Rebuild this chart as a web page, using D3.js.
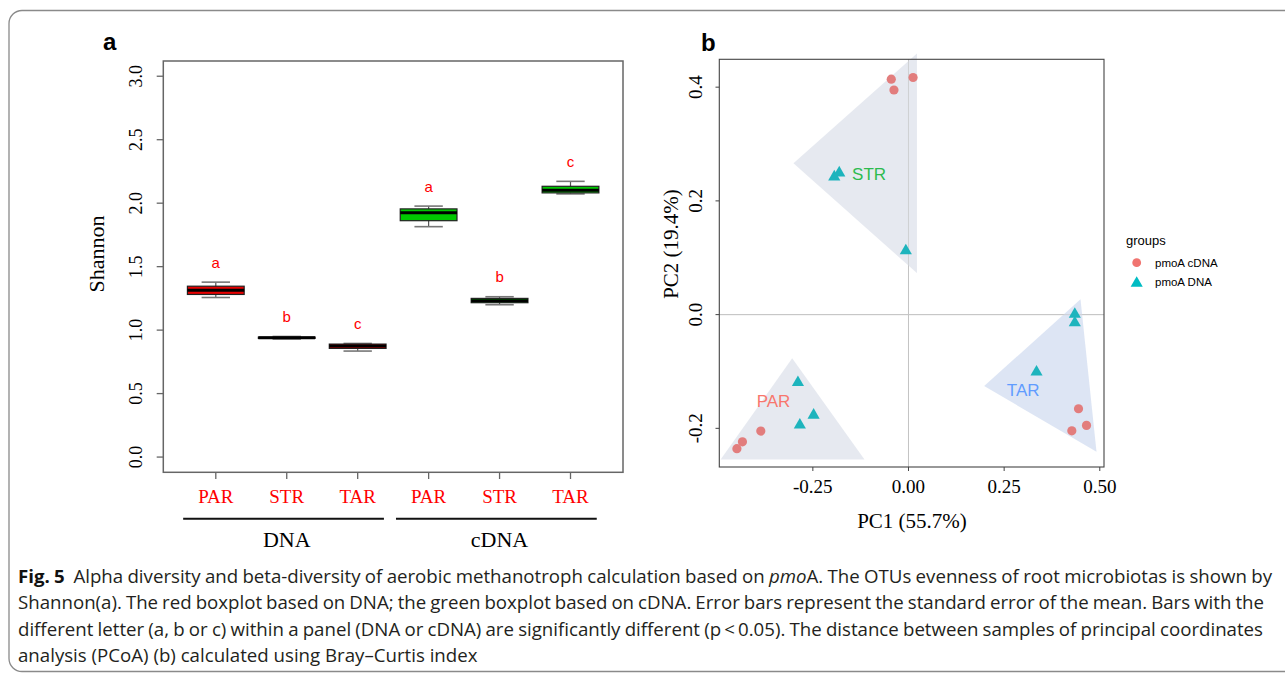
<!DOCTYPE html>
<html><head><meta charset="utf-8">
<script src="https://cdn.jsdelivr.net/npm/d3@7"></script>
<style>body{margin:0;background:#fff}svg{display:block}</style>
</head><body>
<svg id="chart" width="1285" height="674"></svg>
<script>
// ---------- Panel a data (Shannon boxplots) ----------
const boxCategories = ["PAR","STR","TAR","PAR","STR","TAR"];
const boxGroups = ["DNA","DNA","DNA","cDNA","cDNA","cDNA"];
const groupNames = ["DNA","cDNA"];
const boxWhiskerLow  = [1.257, 0.930, 0.835, 1.815, 1.200, 2.073];
const boxQ1          = [1.281, 0.935, 0.856, 1.862, 1.216, 2.081];
const boxMedian      = [1.315, 0.940, 0.874, 1.924, 1.232, 2.101];
const boxQ3          = [1.346, 0.945, 0.890, 1.955, 1.250, 2.133];
const boxWhiskerHigh = [1.378, 0.950, 0.895, 1.977, 1.263, 2.172];
const boxLetters = ["a","b","c","a","b","c"];
const shannonTicks = [0, 0.5, 1, 1.5, 2, 2.5, 3];
const shannonTickLabels = ["0.0","0.5","1.0","1.5","2.0","2.5","3.0"];

// ---------- Panel b data (PCoA) ----------
const cdnaPC1 = [-0.045, 0.012, -0.038, -0.4485, -0.434, -0.386, 0.4444, 0.4653, 0.4269];
const cdnaPC2 = [0.414, 0.417, 0.395, -0.2358, -0.2238, -0.2048, -0.1656, -0.1948, -0.2043];
const dnaPC1 = [-0.194, -0.181, -0.007, -0.289, -0.248, -0.284, 0.4347, 0.4347, 0.3346];
const dnaPC2 = [0.244, 0.251, 0.114, -0.1175, -0.175, -0.1925, 0.0023, -0.0125, -0.0992];
const hullNames = ["STR","PAR","TAR"];
const hullSTR = [[-0.3007, 0.266], [0.022, 0.459], [0.022, 0.073]];
const hullPAR = [[-0.491, -0.255], [-0.304, -0.0767], [-0.115, -0.255]];
const hullTAR = [[0.4496, 0.0269], [0.1978, -0.1256], [0.4914, -0.2412]];
const hullLabelPC1 = [-0.103, -0.3527, 0.2997];
const hullLabelPC2 = [0.247, -0.1515, -0.1315];
const pc1Ticks = [-0.25, 0, 0.25, 0.5];
const pc1TickLabels = ["-0.25","0.00","0.25","0.50"];
const pc2Ticks = [-0.2, 0, 0.2, 0.4];
const pc2TickLabels = ["-0.2","0.0","0.2","0.4"];
const legendLabels = ["pmoA cDNA","pmoA DNA"];

const svg = d3.select("#chart");
const serif = "'Liberation Serif','Times New Roman',serif";
const sans = "'Liberation Sans',Arial,sans-serif";

// frame
svg.append("rect").attr("x",9).attr("y",10.5).attr("width",1300).attr("height",661)
  .attr("rx",13).attr("fill","none").attr("stroke","#8a8a8a").attr("stroke-width",1.3);

// ================= Panel a =================
const xa = d3.scaleLinear().domain([0.26, 6.74]).range([163.3, 623]);
const ya = d3.scaleLinear().domain([-0.12, 3.12]).range([472.3, 61]);
const ga = svg.append("g");
ga.append("text").attr("x",103).attr("y",50).text("a")
  .attr("font-family",sans).attr("font-weight","bold").attr("font-size",24);

const boxW = 0.8, capW = 0.4;
const boxes = ga.selectAll(".box").data(boxCategories.map((c,i)=>({i,c,g:boxGroups[i]})))
  .enter().append("g");
boxes.append("line").attr("x1",d=>xa(d.i+1)).attr("x2",d=>xa(d.i+1))
  .attr("y1",d=>ya(boxWhiskerLow[d.i])).attr("y2",d=>ya(boxWhiskerHigh[d.i]))
  .attr("stroke","#555").attr("stroke-width",1.2);
boxes.append("line").attr("x1",d=>xa(d.i+1-capW/2)).attr("x2",d=>xa(d.i+1+capW/2))
  .attr("y1",d=>ya(boxWhiskerLow[d.i])).attr("y2",d=>ya(boxWhiskerLow[d.i]))
  .attr("stroke","#777").attr("stroke-width",1.6);
boxes.append("line").attr("x1",d=>xa(d.i+1-capW/2)).attr("x2",d=>xa(d.i+1+capW/2))
  .attr("y1",d=>ya(boxWhiskerHigh[d.i])).attr("y2",d=>ya(boxWhiskerHigh[d.i]))
  .attr("stroke","#777").attr("stroke-width",1.6);
boxes.append("rect").attr("x",d=>xa(d.i+1-boxW/2)).attr("width",d=>xa(boxW)-xa(0))
  .attr("y",d=>ya(boxQ3[d.i])).attr("height",d=>Math.max(ya(boxQ1[d.i])-ya(boxQ3[d.i]),1))
  .attr("fill",d=>d.g==="DNA"?"#e80000":"#00c800").attr("stroke","#222").attr("stroke-width",1.2);
boxes.append("line").attr("x1",d=>xa(d.i+1-boxW/2)).attr("x2",d=>xa(d.i+1+boxW/2))
  .attr("y1",d=>ya(boxMedian[d.i])).attr("y2",d=>ya(boxMedian[d.i]))
  .attr("stroke","#000").attr("stroke-width",3);
boxes.append("text").attr("x",d=>xa(d.i+1)).attr("y",d=>ya(boxWhiskerHigh[d.i])-19.5)
  .attr("dy","0.35em").attr("text-anchor","middle").attr("fill","#ff0000")
  .attr("font-family",sans).attr("font-size",15).text(d=>boxLetters[d.i]);

// plot box
ga.append("rect").attr("x",163.3).attr("y",61).attr("width",623-163.3).attr("height",472.3-61)
  .attr("fill","none").attr("stroke","#666").attr("stroke-width",1.5);
// y axis
shannonTicks.forEach((t,k)=>{
  ga.append("line").attr("x1",156.7).attr("x2",163.3).attr("y1",ya(t)).attr("y2",ya(t))
    .attr("stroke","#666").attr("stroke-width",1.3);
  ga.append("text").attr("transform",`translate(142,${ya(t)}) rotate(-90)`)
    .attr("text-anchor","middle").attr("font-family",serif).attr("font-size",18).text(shannonTickLabels[k]);
});
ga.append("text").attr("transform",`translate(104,254) rotate(-90)`)
  .attr("text-anchor","middle").attr("font-family",serif).attr("font-size",22).text("Shannon");
// x axis
boxCategories.forEach((c,i)=>{
  ga.append("line").attr("x1",xa(i+1)).attr("x2",xa(i+1)).attr("y1",472.3).attr("y2",479)
    .attr("stroke","#666").attr("stroke-width",1.3);
  ga.append("text").attr("x",xa(i+1)).attr("y",502.7).attr("text-anchor","middle")
    .attr("fill","#ff0000").attr("font-family",serif).attr("font-size",19).text(c);
});
groupNames.forEach((g,k)=>{
  const idx = boxGroups.map((v,i)=>v===g?i+1:null).filter(v=>v!==null);
  const lo = d3.min(idx), hi = d3.max(idx);
  ga.append("line").attr("x1",xa(lo-0.46)).attr("x2",xa(hi+0.37)).attr("y1",518.7).attr("y2",518.7)
    .attr("stroke","#111").attr("stroke-width",2);
  ga.append("text").attr("x",xa((lo+hi)/2)).attr("y",546.7).attr("text-anchor","middle")
    .attr("font-family",serif).attr("font-size",22).text(g);
});

// ================= Panel b =================
const xb = d3.scaleLinear().domain([-0.4945, 0.511]).range([719.3, 1104]);
const yb = d3.scaleLinear().domain([-0.268, 0.449]).range([467, 59.3]);
const gb = svg.append("g");
gb.append("text").attr("x",701).attr("y",50.7).text("b")
  .attr("font-family",sans).attr("font-weight","bold").attr("font-size",24);

gb.append("line").attr("x1",xb(0)).attr("x2",xb(0)).attr("y1",59.3).attr("y2",467)
  .attr("stroke","#c4c4c4").attr("stroke-width",1);
gb.append("line").attr("x1",719.3).attr("x2",1104).attr("y1",yb(0)).attr("y2",yb(0))
  .attr("stroke","#c4c4c4").attr("stroke-width",1);

const hulls = [hullSTR, hullPAR, hullTAR];
const hullFill = ["#e3e7ee","#e3e7ee","#d9e2f3"];
hulls.forEach((h,k)=>{
  gb.append("path").attr("d", d3.line().x(p=>xb(p[0])).y(p=>yb(p[1]))(h) + "Z")
    .attr("fill",hullFill[k]).attr("fill-opacity",0.9);
});
gb.append("line").attr("x1",xb(0)).attr("x2",xb(0)).attr("y1",59.3).attr("y2",467)
  .attr("stroke","#c4c4c4").attr("stroke-width",1).attr("stroke-opacity",0.6);
gb.append("line").attr("x1",719.3).attr("x2",1104).attr("y1",yb(0)).attr("y2",yb(0))
  .attr("stroke","#c4c4c4").attr("stroke-width",1).attr("stroke-opacity",0.6);

const circleColor = "#e27d7d", triColor = "#1db4bd";
gb.selectAll(".cd").data(cdnaPC1.map((v,i)=>[v,cdnaPC2[i]])).enter().append("circle")
  .attr("cx",d=>xb(d[0])).attr("cy",d=>yb(d[1])).attr("r",4.6).attr("fill",circleColor);
const tri = d3.symbol().type(d3.symbolTriangle).size(64);
gb.selectAll(".dn").data(dnaPC1.map((v,i)=>[v,dnaPC2[i]])).enter().append("path")
  .attr("d",tri).attr("transform",d=>`translate(${xb(d[0])},${yb(d[1])+1})`).attr("fill",triColor);

const labelColors = {"STR":"#2dbb4f","PAR":"#f8766d","TAR":"#619cff"};
hullNames.forEach((n,k)=>{
  gb.append("text").attr("x",xb(hullLabelPC1[k])).attr("y",yb(hullLabelPC2[k])).attr("dy","0.36em")
    .attr("text-anchor","middle").attr("fill",labelColors[n]).attr("font-family",sans)
    .attr("font-size",17).text(n);
});

gb.append("rect").attr("x",719.3).attr("y",59.3).attr("width",1104-719.3).attr("height",467-59.3)
  .attr("fill","none").attr("stroke","#444").attr("stroke-width",1.1);
pc1Ticks.forEach((t,k)=>{
  gb.append("line").attr("x1",xb(t)).attr("x2",xb(t)).attr("y1",467).attr("y2",471)
    .attr("stroke","#444").attr("stroke-width",1);
  gb.append("text").attr("x",xb(t)).attr("y",492.7).attr("text-anchor","middle")
    .attr("font-family",serif).attr("font-size",19).text(pc1TickLabels[k]);
});
pc2Ticks.forEach((t,k)=>{
  gb.append("line").attr("x1",715.5).attr("x2",719.3).attr("y1",yb(t)).attr("y2",yb(t))
    .attr("stroke","#444").attr("stroke-width",1);
  gb.append("text").attr("transform",`translate(702,${yb(t)}) rotate(-90)`).attr("text-anchor","middle")
    .attr("font-family",serif).attr("font-size",19).text(pc2TickLabels[k]);
});
gb.append("text").attr("x",912).attr("y",528).attr("text-anchor","middle")
  .attr("font-family",serif).attr("font-size",21).text("PC1 (55.7%)");
gb.append("text").attr("transform",`translate(678,244) rotate(-90)`).attr("text-anchor","middle")
  .attr("font-family",serif).attr("font-size",21).text("PC2 (19.4%)");

// legend
const lg = svg.append("g");
lg.append("text").attr("x",1126).attr("y",245).attr("font-family",sans).attr("font-size",13).text("groups");
legendLabels.forEach((l,k)=>{
  const cy = 262.7 + k*19.5;
  if(k===0) lg.append("circle").attr("cx",1136.7).attr("cy",cy).attr("r",4.4).attr("fill","#f07470");
  else lg.append("path").attr("d",tri).attr("transform",`translate(1136.7,${cy+1})`).attr("fill","#00bcc3");
  lg.append("text").attr("x",1155).attr("y",cy+3.9).attr("font-family",sans).attr("font-size",11.5).text(l);
});

// ================= Caption (justified, condensed) =================
const cap = svg.append("g").attr("font-family","'Open Sans','Noto Sans',sans-serif")
  .attr("font-size",17.5).attr("fill","#231f20");
const capLines = [
  [["Fig. 5","bold"],["  Alpha diversity and beta-diversity of aerobic methanotroph calculation based on ",""],["pmo","italic"],["A. The OTUs evenness of root microbiotas is shown by",""]],
  [["Shannon(a). The red boxplot based on DNA; the green boxplot based on cDNA. Error bars represent the standard error of the mean. Bars with the",""]],
  [["different letter (a, b or c) within a panel (DNA or cDNA) are significantly different (p\u2009<\u20090.05). The distance between samples of principal coordinates",""]],
  [["analysis (PCoA) (b) calculated using Bray\u2013Curtis index",""]]
];
const capJustify = [true, true, true, false];
const capEnds = [1272, 1264, 1263, 478];
const capBase = [583, 609, 636, 662];
const capLeft = 18;
const texts = capLines.map((parts,k)=>{
  const g = cap.append("g");
  const t = g.append("text").attr("x",0).attr("y",0).attr("xml:space","preserve");
  parts.forEach(p=>{
    const s = t.append("tspan").text(p[0]);
    if(p[1]==="bold") s.attr("font-weight","bold").attr("fill","#111");
    if(p[1]==="italic") s.attr("font-style","italic");
  });
  return {g,t};
});
const lastW = texts[3].t.node().getComputedTextLength();
const f = (capEnds[3]-capLeft)/lastW;
texts.forEach((o,k)=>{
  o.g.attr("transform",`translate(${capLeft},${capBase[k]}) scale(${f},1)`);
  if(capJustify[k]){
    const w = o.t.node().getComputedTextLength();
    const txt = capLines[k].map(p=>p[0]).join("");
    const n = (txt.match(/ /g)||[]).length;
    const target = (capEnds[k]-capLeft)/f;
    o.t.attr("word-spacing", (target-w)/n);
  }
});
</script>
</body></html>
